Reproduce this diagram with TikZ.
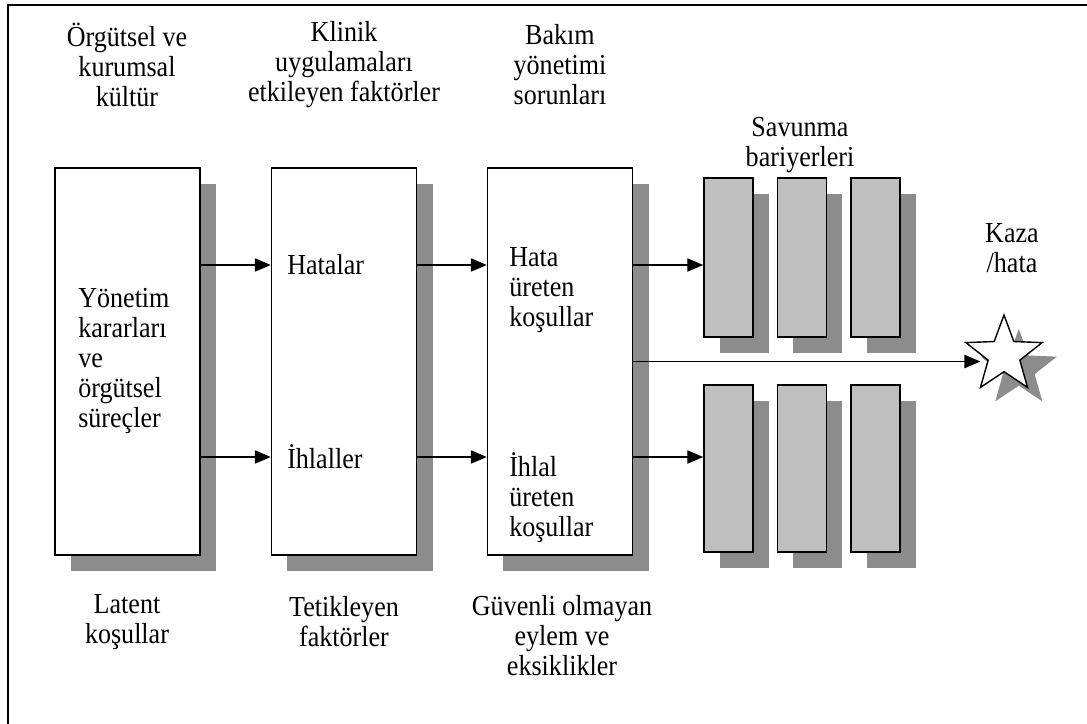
\documentclass[tikz,border=0pt]{standalone}
\usepackage{fontspec}
\setmainfont{Liberation Serif}[FakeStretch=0.9]
\usetikzlibrary{arrows.meta, positioning, shapes.geometric, shadows}

\begin{document}
\begin{tikzpicture}[x=0.025cm, y=-0.025cm, node distance=0.575cm, font=\fontsize{20.6pt}{21.3pt}\selectfont]

% Define styles for the nodes
\tikzstyle{shade} = [drop shadow={shadow xshift=0.4cm, shadow yshift=-0.4cm, fill=black!45, opacity=1}]
\tikzstyle{stage} = [rectangle, draw=black, line width=1pt, fill=white, minimum width=3.625cm, minimum height=9.675cm, inner sep=0pt, shade]
\tikzstyle{barrier} = [rectangle, draw=black, line width=1pt, fill=black!25, minimum width=1.225cm, inner sep=0pt, shade]
\tikzstyle{caption} = [align=center, inner sep=0pt]
\tikzstyle{intext} = [align=left, inner sep=0pt, anchor=west]
\tikzstyle{arr} = [-{Triangle[length=0.4cm, width=0.33cm]}, line width=1pt]

% Frame
\useasboundingbox (0,0) rectangle (1087,724);
\clip (0,0) rectangle (1087,724);
\draw[line width=1.2pt] (8,5) rectangle (1120,760);

% Nodes
\node (box1) [stage] at (127.5,361.5) {};
\node (box2) [stage] at (344,361.5) {};
\node (box3) [stage] at (560,361.5) {};

\node (barU1) [barrier, minimum height=3.975cm] at (728.5,257.5) {};
\node (barU2) [barrier, minimum height=3.975cm, right=of barU1] {};
\node (barU3) [barrier, minimum height=3.975cm, right=of barU2] {};
\node (barL1) [barrier, minimum height=4.175cm] at (728.5,468.5) {};
\node (barL2) [barrier, minimum height=4.175cm, right=of barL1] {};
\node (barL3) [barrier, minimum height=4.175cm, right=of barL2] {};

\node (accident) [star, star points=5, star point ratio=2.4, minimum size=2cm, inner sep=0pt, draw=black, line width=1pt, fill=white, drop shadow={shadow xshift=0.37cm, shadow yshift=-0.35cm, fill=black!45, opacity=1}] at (1004,355) {};

% Labels
\node (culture) [caption] at (127,65) {Örgütsel ve\\kurumsal\\kültür};
\node (clinic) [caption] at (344,65) {Klinik\\uygulamaları\\etkileyen faktörler};
\node (care) [caption] at (560,65) {Bakım\\yönetimi\\sorunları};
\node (defence) [caption] at (800,145) {Savunma\\bariyerleri};
\node (crash) [caption] at (1012,248) {Kaza\\/hata};

\node (decisions) [intext] at (78,361) {Yönetim\\kararları\\ve\\örgütsel\\süreçler};
\node (errors) [intext] at (287,265) {Hatalar};
\node (violations) [intext] at (287,457) {İhlaller};
\node (errcond) [intext] at (509,290) {Hata\\üreten\\koşullar};
\node (viocond) [intext] at (509,498) {İhlal\\üreten\\koşullar};

\node (latent) [caption] at (127,622) {Latent\\koşullar};
\node (trigger) [caption] at (344,622) {Tetikleyen\\faktörler};
\node (unsafe) [caption] at (562,636) {Güvenli olmayan\\eylem ve\\eksiklikler};

% Arrows
\draw[arr] (box1.east |- errors) -- (box2.west |- errors);
\draw[arr] (box1.east |- violations) -- (box2.west |- violations);
\draw[arr] (box2.east |- errors) -- (box3.west |- errors);
\draw[arr] (box2.east |- violations) -- (box3.west |- violations);
\draw[arr] (box3.east |- errors) -- (barU1.west |- errors);
\draw[arr] (box3.east |- violations) -- (barL1.west |- violations);
\draw[arr] (box3.east) -- (box3.east -| accident.west);

\end{tikzpicture}
\end{document}
